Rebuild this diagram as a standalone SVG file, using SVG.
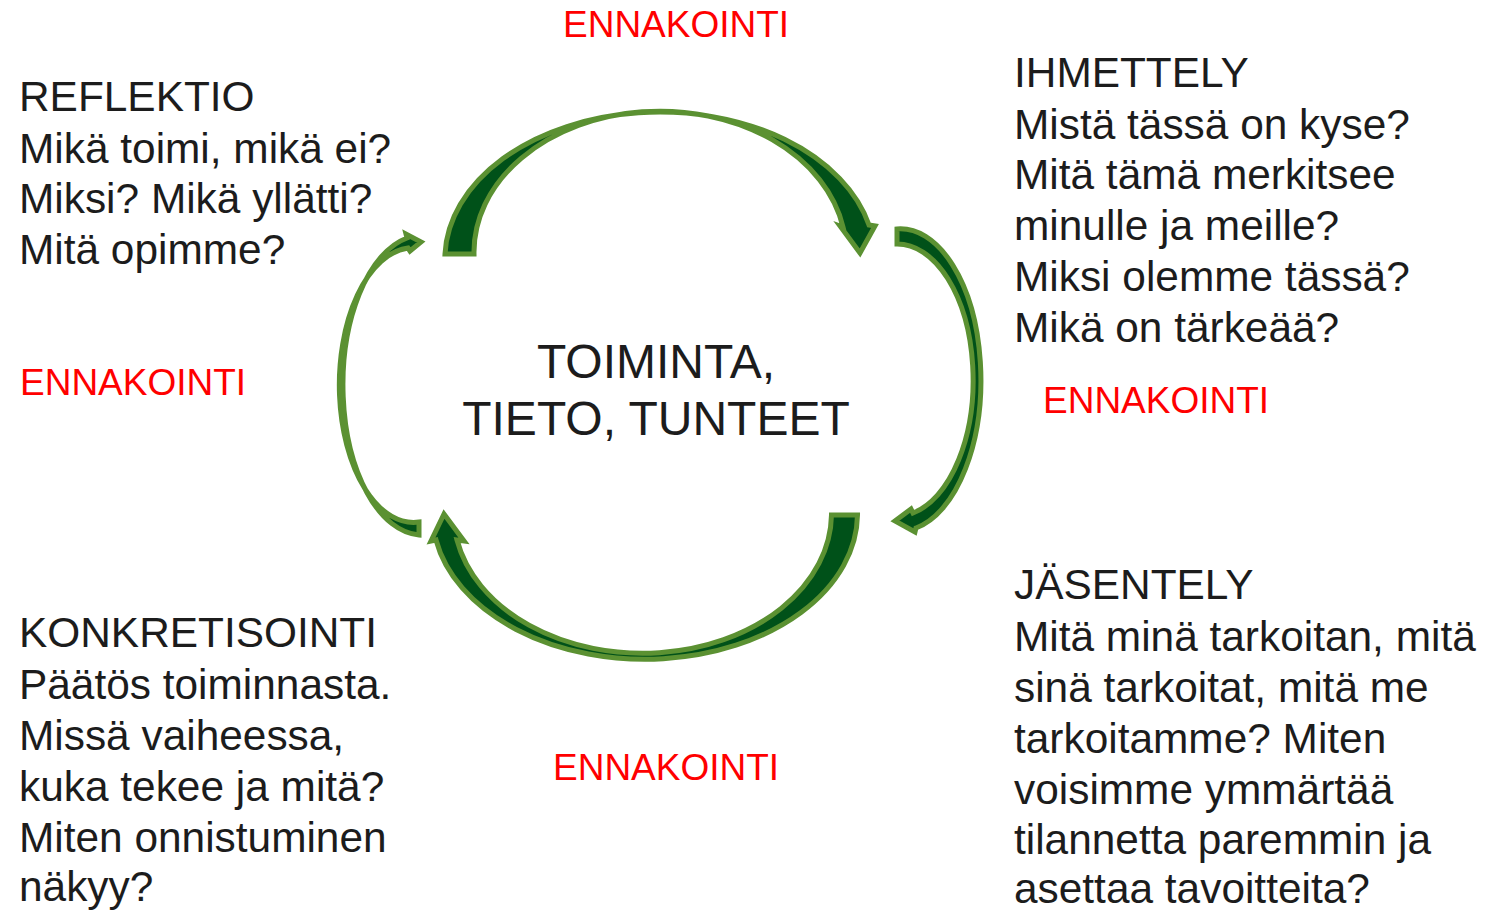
<svg xmlns="http://www.w3.org/2000/svg" width="1486" height="912" viewBox="0 0 1486 912">
<style>
.t{font-family:"Liberation Sans",Arial,sans-serif;font-size:42.4px;fill:#1c1c1c}
.c{font-family:"Liberation Sans",Arial,sans-serif;font-size:48px;fill:#1c1c1c;text-anchor:middle}
.r{font-family:"Liberation Sans",Arial,sans-serif;font-size:37px;fill:#ff0000}
.arrow{fill:#005119;stroke:#5b9132;stroke-width:5;stroke-linejoin:miter}
</style>
<rect width="1486" height="912" fill="#ffffff"/>
<g id="connectors">
<path class="arrow" d="M 445,254 A 215 147 0 0 1 869,225 L 875,226 L 860,253 L 840,226 L 843,227 A 186 141 0 0 0 474,254 Z"/>
<path class="arrow" d="M 897,229 A 80.5 151 0 0 1 916,528 L 915,532 L 895,521 L 911,509 L 913,513 A 76 136 0 0 0 897,244 Z"/>
<path class="arrow" d="M 857.5,515 A 212.5 145.5 0 0 1 436,540 L 431,541 L 444,514 L 464,541 L 457,540 A 189 140 0 0 0 831.5,515 Z"/>
<path class="arrow" d="M 419,535 A 79.5 150 0 0 1 407,238 L 406,234 L 421,242 L 410,251 L 408,248 A 74 137 0 0 0 419,522 Z"/>
</g>
<g id="center">
<text class="c" x="656" y="378">TOIMINTA,</text>
<text class="c" x="656" y="435">TIETO, TUNTEET</text>
</g>
<g id="ennakointi-top"><text class="r" x="563" y="37">ENNAKOINTI</text></g>
<g id="ennakointi-left"><text class="r" x="20" y="395">ENNAKOINTI</text></g>
<g id="ennakointi-right"><text class="r" x="1043" y="413">ENNAKOINTI</text></g>
<g id="ennakointi-bottom"><text class="r" x="553" y="780">ENNAKOINTI</text></g>
<g id="reflektio">
<text class="t" x="19" y="111">REFLEKTIO</text>
<text class="t" x="19" y="163">Mikä toimi, mikä ei?</text>
<text class="t" x="19" y="213">Miksi? Mikä yllätti?</text>
<text class="t" x="19" y="264">Mitä opimme?</text>
</g>
<g id="ihmettely">
<text class="t" x="1014" y="87">IHMETTELY</text>
<text class="t" x="1014" y="139">Mistä tässä on kyse?</text>
<text class="t" x="1014" y="189">Mitä tämä merkitsee</text>
<text class="t" x="1014" y="240">minulle ja meille?</text>
<text class="t" x="1014" y="291">Miksi olemme tässä?</text>
<text class="t" x="1014" y="342">Mikä on tärkeää?</text>
</g>
<g id="konkretisointi">
<text class="t" x="19" y="647">KONKRETISOINTI</text>
<text class="t" x="19" y="699">Päätös toiminnasta.</text>
<text class="t" x="19" y="750">Missä vaiheessa,</text>
<text class="t" x="19" y="801">kuka tekee ja mitä?</text>
<text class="t" x="19" y="852">Miten onnistuminen</text>
<text class="t" x="19" y="901">näkyy?</text>
</g>
<g id="jasentely">
<text class="t" x="1014" y="599">JÄSENTELY</text>
<text class="t" x="1014" y="651">Mitä minä tarkoitan, mitä</text>
<text class="t" x="1014" y="702">sinä tarkoitat, mitä me</text>
<text class="t" x="1014" y="753">tarkoitamme? Miten</text>
<text class="t" x="1014" y="804">voisimme ymmärtää</text>
<text class="t" x="1014" y="854">tilannetta paremmin ja</text>
<text class="t" x="1014" y="903">asettaa tavoitteita?</text>
</g>
</svg>
